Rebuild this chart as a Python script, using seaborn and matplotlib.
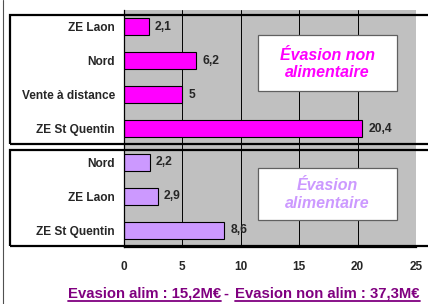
import matplotlib
matplotlib.use("Agg")
import matplotlib.pyplot as plt
import seaborn as sns
import pandas as pd
from matplotlib.patches import Rectangle
from matplotlib.lines import Line2D

labels = ["ZE Laon", "Nord", "Vente à distance", "ZE St Quentin",
          "Nord", "ZE Laon", "ZE St Quentin"]
values = [2.1, 6.2, 5, 20.4, 2.2, 2.9, 8.6]
groups = ["non alim", "non alim", "non alim", "non alim", "alim", "alim", "alim"]
xticks = [0, 5, 10, 15, 20, 25]

df = pd.DataFrame({"key": [str(i) for i in range(len(labels))],
                   "value": values, "group": groups})

sns.set_style("white")
plt.rcParams["font.family"] = ["Liberation Sans", "DejaVu Sans"]

W, H = 428, 304
fig = plt.figure(figsize=(W / 100, H / 100), dpi=100)
ax = fig.add_axes([124 / W, 1 - 247 / H, (416 - 124) / W, (247 - 10) / H])

sns.barplot(data=df, x="value", y="key", hue="group",
            palette={"non alim": "#FF00FF", "alim": "#CC99FF"},
            dodge=False, width=0.5, edgecolor="black", linewidth=0.8,
            saturation=1, legend=False, ax=ax)

ax.set_facecolor("#C0C0C0")
ax.set_xlim(0, 25)
ax.set_ylim(6.5, -0.5)
ax.set_xticks(xticks)
ax.set_xticklabels([str(t) for t in xticks], fontsize=8.5, fontweight="bold")
ax.grid(axis="x", color="black", linewidth=0.7)
ax.set_axisbelow(True)
ax.set_xlabel("")
ax.set_ylabel("")
for s in ["top", "right"]:
    ax.spines[s].set_visible(False)
for s in ["left", "bottom"]:
    ax.spines[s].set_color("black")
    ax.spines[s].set_linewidth(0.9)

ax.set_yticks(range(len(labels)))
ax.set_yticklabels(labels, fontsize=8.6, fontweight="bold")
ax.set_yticks([i - 0.5 for i in range(len(labels) + 1)], minor=True)
ax.tick_params(axis="y", which="major", length=0, pad=6.5)
ax.tick_params(axis="y", which="minor", length=3, width=0.8, direction="out", color="black")
ax.tick_params(axis="x", length=5, width=0.8, direction="inout", pad=7.5, color="black")

for i, v in enumerate(values):
    ax.annotate(f"{v:g}".replace(".", ","), (v, i), xytext=(4.5, 0),
                textcoords="offset points", va="center", ha="left",
                fontsize=8.7, fontweight="bold")

# label boxes
ax.add_patch(Rectangle((11.47, 0.24), 11.9, 1.65, fc="white", ec="#606060", lw=0.9, zorder=3))
ax.text(17.4, 1.1, "Évasion non\nalimentaire", color="#FF00FF", fontsize=11.5,
        fontweight="bold", style="italic", ha="center", va="center",
        linespacing=1.2, zorder=4)
ax.add_patch(Rectangle((11.47, 4.17), 11.9, 1.53, fc="white", ec="#606060", lw=0.9, zorder=3))
ax.text(17.4, 4.95, "Évasion\nalimentaire", color="#CC99FF", fontsize=11.5,
        fontweight="bold", style="italic", ha="center", va="center",
        linespacing=1.2, zorder=4)

# group frames
fig.add_artist(Rectangle((10 / W, 1 - 144 / H), 1.0, (144 - 15) / H,
                         transform=fig.transFigure, fill=False, ec="black", lw=1.6))
fig.add_artist(Rectangle((10 / W, 1 - 246 / H), 1.0, (246 - 150) / H,
                         transform=fig.transFigure, fill=False, ec="black", lw=1.6))
fig.add_artist(Line2D([3 / W, 3 / W], [0, 1], transform=fig.transFigure,
                      color="#505050", lw=0.8))

# bottom summary
purple = "#800080"
t1 = fig.text(221 / W, 1 - 298 / H, "Evasion alim : 15,2M€", color=purple,
              fontsize=10.7, fontweight="bold", ha="right", va="baseline")
t2 = fig.text(226 / W, 1 - 298 / H, "-", color=purple,
              fontsize=10.7, fontweight="bold", ha="center", va="baseline")
t3 = fig.text(235 / W, 1 - 298 / H, "Evasion non alim : 37,3M€", color=purple,
              fontsize=10.7, fontweight="bold", ha="left", va="baseline")
fig.canvas.draw()
r = fig.canvas.get_renderer()
for t in (t1, t3):
    bb = t.get_window_extent(r)
    y = (bb.y0 + 0.5) / H
    fig.add_artist(Line2D([bb.x0 / W, bb.x1 / W], [y, y], transform=fig.transFigure,
                          color=purple, lw=1.3))

fig.savefig("out.png", dpi=100)
